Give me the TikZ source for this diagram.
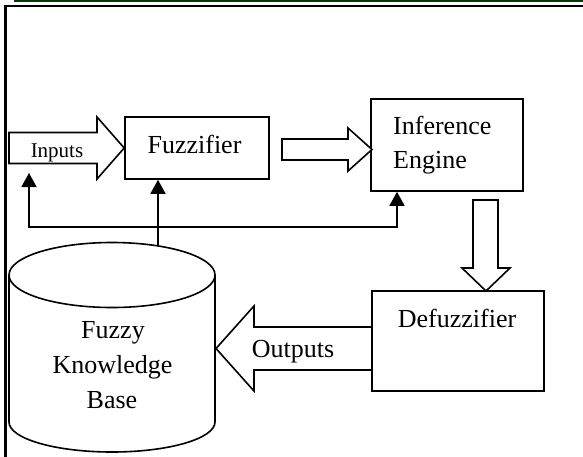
\documentclass[tikz,border=0pt]{standalone}
\usepackage{fontspec}
\setmainfont{Liberation Serif}
\usetikzlibrary{arrows.meta}
\definecolor{rulegreen}{RGB}{8,56,8}
\begin{document}
\begin{tikzpicture}[x=1pt,y=-1pt,
  stroke/.style={line width=1.6pt,line join=miter},
  box/.style={draw,stroke,inner sep=0pt},
  lbl/.style={anchor=base,inner sep=0pt,font=\fontsize{26}{34}\selectfont},
  smalllbl/.style={anchor=base,inner sep=0pt,font=\fontsize{21}{26}\selectfont},
  harrow/.style={draw,stroke,fill=white},
  link/.style={draw,line width=1.6pt,-{Triangle[width=15pt,length=14pt]}}]
\useasboundingbox (0,0) rectangle (583,456);

% page rules and frame
\draw[line width=3pt,color=rulegreen] (14,0.5) -- (600,0.5);
\draw[line width=2.5pt] (5.5,470) -- (5.5,6) -- (600,6);

% processing blocks
\node[box,minimum width=144,minimum height=62] (fuzz) at (197,148) {};
\node[box,minimum width=152,minimum height=92] (inf) at (447,145) {};
\node[box,minimum width=172,minimum height=100] (defuzz) at (458,341) {};

% knowledge base cylinder
\path[draw,stroke,fill=white] (9,275) -- (9,422)
  arc[start angle=180,end angle=360,x radius=103pt,y radius=30pt] -- (215,275);
\draw[stroke,fill=white] (112,275) ellipse[x radius=103pt,y radius=32.5pt];

% hollow block arrows
\path[harrow] (9,132.5) -- (97,132.5) -- (97,117) -- (fuzz.west) -- (97,179)
  -- (97,163.5) -- (9,163.5) -- cycle;
\path[harrow] (282,139) -- (348,139) -- (348,128) -- (372,149.5) -- (348,171)
  -- (348,160) -- (282,160) -- cycle;
\path[harrow] (473,200) -- (498,200) -- (498,268) -- (510,268) -- (486,291)
  -- (462,268) -- (473,268) -- cycle;
\path[harrow] (372,327) -- (254,327) -- (254,306) -- (216,348.5) -- (254,391)
  -- (254,370) -- (372,370) -- cycle;

% knowledge base links
\coordinate (kbtop) at (158,246);
\coordinate (bus) at (158,227);
\coordinate (inpfb) at (29,173);
\coordinate (inffb) at (397,0);
\draw[link] (kbtop) -- (fuzz.south -| kbtop);
\draw[link] (bus) -| (inpfb);
\draw[link] (bus) -| (inf.south -| inffb);

% labels
\node[smalllbl] (inpt) at (57,157) {Inputs};
\node[lbl] (fuzzt) at (194.5,153) {Fuzzifier};
\node[lbl,anchor=base west] (inft1) at (393,134) {Inference};
\node[lbl,anchor=base west] (inft2) at (393,168) {Engine};
\node[lbl] (defuzzt) at (457,327) {Defuzzifier};
\node[lbl] (outt) at (293,357) {Outputs};
\node[lbl] (kb1) at (113,338) {Fuzzy};
\node[lbl] (kb2) at (112.5,373) {Knowledge};
\node[lbl] (kb3) at (112,408) {Base};
\end{tikzpicture}
\end{document}
